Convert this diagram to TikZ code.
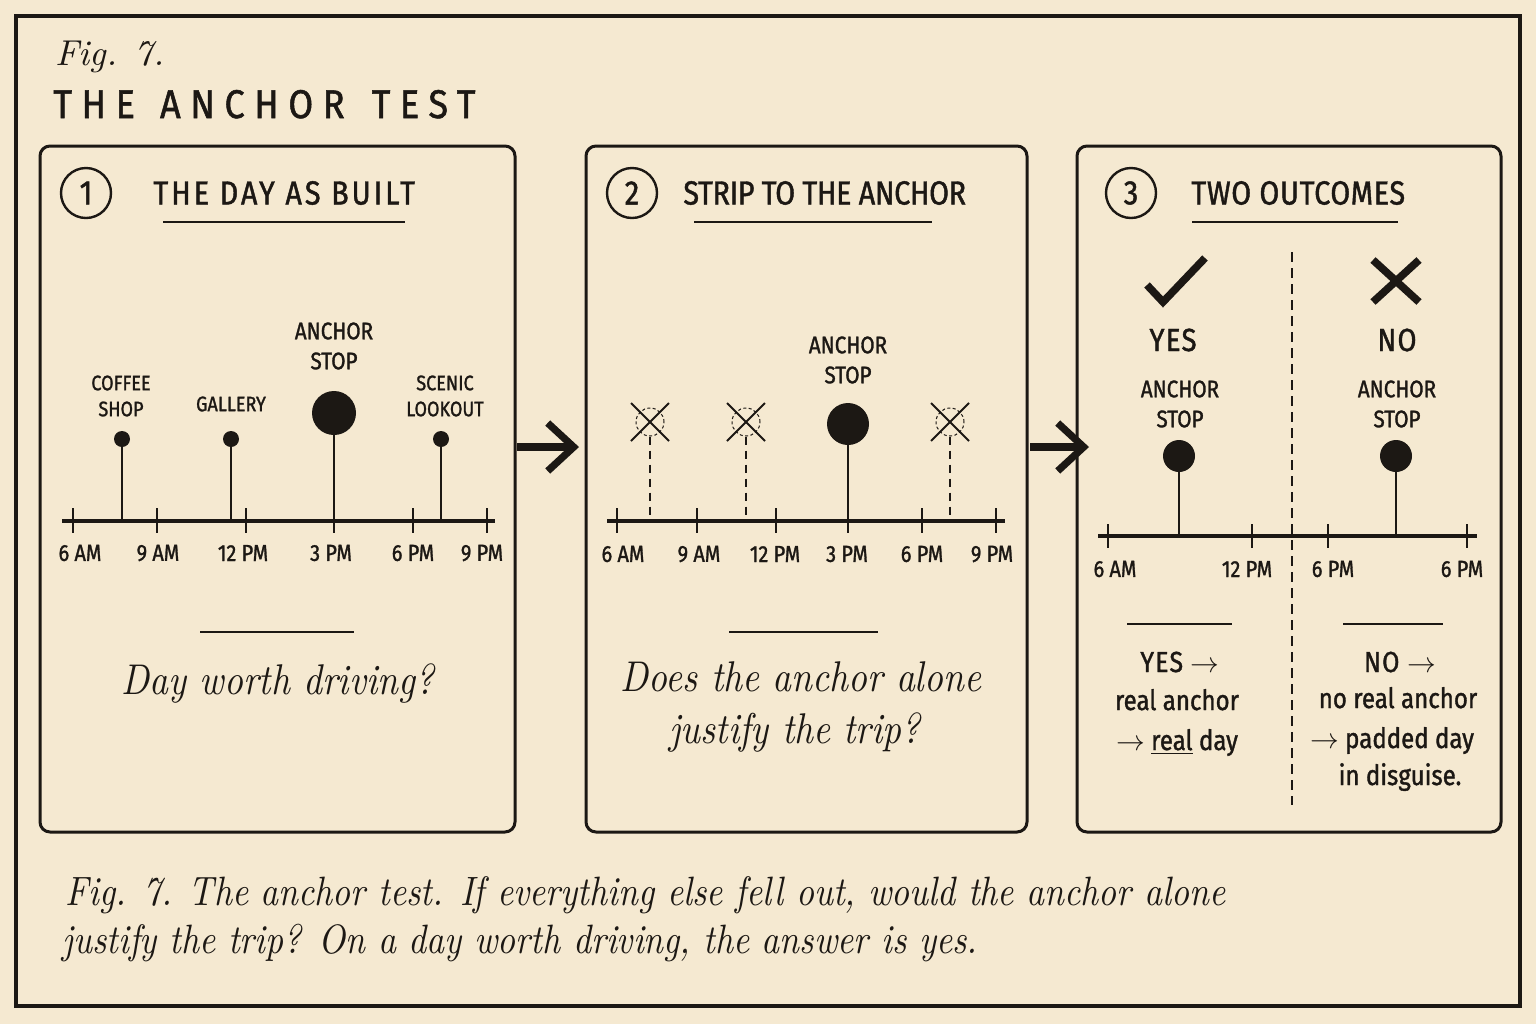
\documentclass[tikz,border=0pt]{standalone}
\usepackage{fontspec}
\usetikzlibrary{arrows.meta}
\newfontfamily\lab[FakeStretch=0.86,FakeBold=1.3]{Fira Sans}
\newfontfamily\labsp[FakeStretch=0.86,FakeBold=1.3,LetterSpace=4]{Fira Sans}
\newfontfamily\titlef[FakeStretch=0.9,FakeBold=1.3,LetterSpace=24]{Fira Sans}
\newfontfamily\serit[FakeStretch=0.86]{lmroman10-italic.otf}
\newfontfamily\figit{lmroman10-italic.otf}
\definecolor{paper}{HTML}{F5E9D1}
\definecolor{ink}{HTML}{1C1814}
\tikzset{
  every node/.style={text=ink, inner sep=0pt},
  frame/.style={draw=ink, line width=2pt},
  panel/.style={draw=ink, line width=1.5pt, rounded corners=5pt},
  hdr/.style={font=\labsp\fontsize{16.7}{18}\selectfont, anchor=west},
  num/.style={circle, draw=ink, line width=1.2pt, minimum size=25pt, font=\lab\fontsize{17}{18}\selectfont},
  hrule/.style={draw=ink, line width=0.9pt},
  axis/.style={draw=ink, line width=1.8pt},
  tick/.style={draw=ink, line width=1.2pt},
  tlab/.style={font=\lab\fontsize{11.6}{13}\selectfont},
  slab/.style={font=\lab\fontsize{10.5}{12}\selectfont, align=center},
  alab/.style={font=\lab\fontsize{12}{13.5}\selectfont, align=center},
  stem/.style={draw=ink, line width=1.2pt},
  dstem/.style={draw=ink, line width=0.8pt, dash pattern=on 4pt off 3pt},
  dot/.style={circle, fill=ink, minimum size=#1},
  ghost/.style={circle, draw=ink, line width=0.5pt, dash pattern=on 1.5pt off 1.2pt, minimum size=14pt},
  xline/.style={draw=ink, line width=1pt},
  bigmark/.style={draw=ink, line width=3.8pt},
  yn/.style={font=\labsp\fontsize{16}{18}\selectfont},
  ital/.style={font=\serit\fontsize{21.5}{26}\selectfont},
  outtxt/.style={font=\lab\fontsize{14}{16}\selectfont, anchor=base},
  outhd/.style={font=\labsp\fontsize{14.5}{16}\selectfont, anchor=base},
  bigarrow/.style={draw=ink, line width=3.6pt, -{Straight Barb[length=13pt,width=24pt]}},
  divider/.style={draw=ink, line width=0.6pt, dash pattern=on 5pt off 3pt},
}
\begin{document}
\begin{tikzpicture}[x=0.5pt,y=-0.5pt]
\fill[paper] (0,0) rectangle (1536,1024);
\useasboundingbox (0,0) rectangle (1536,1024);
\draw[frame] (16,16) rectangle (1520,1006);

% title
\node[anchor=base west, font=\figit\fontsize{18}{20}\selectfont] (fig) at (55,65) {Fig. 7.};
\node[anchor=base west, font=\titlef\fontsize{20}{22}\selectfont] (title) at (53,118) {THE~\hspace{3pt}ANCHOR~\hspace{4pt}TEST};

% panels
\draw[panel] (40,146) rectangle (515,832);
\draw[panel] (586,146) rectangle (1027,832);
\draw[panel] (1077,146) rectangle (1501,832);

% ---------- panel 1 ----------
\node[num] (n1) at (86,193) {1};
\node[hdr] (h1) at (153,193) {\addfontfeature{LetterSpace=9}THE DAY AS BUILT};
\draw[hrule] (163,222) -- (405,222);
\draw[axis] (62,521) -- (495,521);
\foreach \x in {73,157,246,334,413,487} \draw[tick] (\x,508) -- (\x,533);
\coordinate (ax1) at (62,521);
\node[tlab] (l11) at (80,553) {6 AM};
\node[tlab] (l12) at (158,553) {9 AM};
\node[tlab] (l13) at (243,553) {12 PM};
\node[tlab] (l14) at (331,553) {3 PM};
\node[tlab] (l15) at (413,553) {6 PM};
\node[tlab] (l16) at (482,553) {9 PM};
\node[dot=8pt] (d11) at (122,439) {};
\node[dot=8pt] (d12) at (231,439) {};
\node[dot=22pt] (d13) at (334,413) {};
\node[dot=8pt] (d14) at (441,439) {};
\draw[stem] (d11.south) -- (d11 |- ax1);
\draw[stem] (d12.south) -- (d12 |- ax1);
\draw[stem] (d13.south) -- (d13 |- ax1);
\draw[stem] (d14.south) -- (d14 |- ax1);
\node[slab] (s11) at (121,396) {COFFEE\\[1pt]SHOP};
\node[slab] (s12) at (231,404) {GALLERY};
\node[alab] (s13) at (334,346) {ANCHOR\\[1.5pt]STOP};
\node[slab] (s14) at (445,396) {SCENIC\\[1pt]LOOKOUT};
\draw[hrule] (200,632) -- (354,632);
\node[ital, anchor=base] (q1) at (278,694) {Day worth driving?};

% arrow 1
\coordinate (a1s) at (517,447);
\coordinate (a1e) at (579,447);
\draw[bigarrow] (a1s) -- (a1e);

% ---------- panel 2 ----------
\node[num] (n2) at (632,193) {2};
\node[hdr] (h2) at (683,193) {\addfontfeature{LetterSpace=-1}STRIP TO THE ANCHOR};
\draw[hrule] (694,222) -- (932,222);
\draw[axis] (607,521) -- (1005,521);
\coordinate (ax2) at (607,521);
\foreach \x in {617,697,776,848,922,996} \draw[tick] (\x,508) -- (\x,533);
\node[tlab] (l21) at (623,554) {6 AM};
\node[tlab] (l22) at (699,554) {9 AM};
\node[tlab] (l23) at (775,554) {12 PM};
\node[tlab] (l24) at (847,554) {3 PM};
\node[tlab] (l25) at (922,554) {6 PM};
\node[tlab] (l26) at (992,554) {9 PM};
\foreach \n/\x in {g1/650,g2/746,g3/950}{
  \node[ghost] (\n) at (\x,422) {};
  \draw[xline] ([shift={(-19,-19)}]\n.center) -- ([shift={(19,19)}]\n.center);
  \draw[xline] ([shift={(19,-19)}]\n.center) -- ([shift={(-19,19)}]\n.center);
  \draw[dstem] (\n.south) -- (\n |- ax2);
}
\node[dot=21pt] (d2) at (848,424) {};
\draw[stem] (d2.south) -- (d2 |- ax2);
\node[alab] (s2) at (848,360) {ANCHOR\\[1.5pt]STOP};
\draw[hrule] (729,632) -- (878,632);
\node[ital, anchor=base] (q2a) at (801,691) {Does the anchor alone};
\node[ital, anchor=base] (q2b) at (795,743) {justify the trip?};

% arrow 2
\coordinate (a2s) at (1030,447);
\coordinate (a2e) at (1089,447);
\draw[bigarrow] (a2s) -- (a2e);

% ---------- panel 3 ----------
\node[num] (n3) at (1131,193) {3};
\node[hdr] (h3) at (1191,193) {\addfontfeature{LetterSpace=2}TWO OUTCOMES};
\draw[hrule] (1192,222) -- (1398,222);
\coordinate (dvt) at (1292,252);
\coordinate (dvb) at (1292,805);
\draw[divider] (dvt) -- (dvb);
\coordinate (ck) at (1176,281);
\draw[bigmark] ([shift={(-29,4)}]ck) -- ([shift={(-13,21)}]ck) -- ([shift={(29,-23)}]ck);
\coordinate (xk) at (1396,281);
\draw[bigmark] ([shift={(-23,-21)}]xk) -- ([shift={(23,21)}]xk);
\draw[bigmark] ([shift={(23,-21)}]xk) -- ([shift={(-23,21)}]xk);
\node[yn] (yes) at (1173,340) {YES};
\node[yn] (no) at (1397,340) {NO};
\node[alab] (s31) at (1180,404) {ANCHOR\\[1.5pt]STOP};
\node[alab] (s32) at (1397,404) {ANCHOR\\[1.5pt]STOP};
\draw[axis] (1098,536) -- (1477,536);
\coordinate (ax3) at (1098,536);
\foreach \x in {1108,1252,1328,1467} \draw[tick] (\x,524) -- (\x,548);
\node[dot=16pt] (d31) at (1179,456) {};
\node[dot=16pt] (d32) at (1396,456) {};
\draw[stem] (d31.south) -- (d31 |- ax3);
\draw[stem] (d32.south) -- (d32 |- ax3);
\node[tlab] (l31) at (1115,569) {6 AM};
\node[tlab] (l32) at (1247,569) {12 PM};
\node[tlab] (l33) at (1333,569) {6 PM};
\node[tlab] (l34) at (1462,569) {6 PM};
\draw[hrule] (1127,624) -- (1232,624);
\draw[hrule] (1343,624) -- (1443,624);
\node[outhd] (y1) at (1180,672) {YES $\rightarrow$};
\node[outtxt] (y2) at (1177,710) {real anchor};
\node[outtxt] (y3) at (1177,750) {$\rightarrow$ \underline{real} day};
\node[outhd] (o1) at (1400,672) {NO $\rightarrow$};
\node[outtxt] (o2) at (1398,708) {no real anchor};
\node[outtxt] (o3) at (1392,748) {$\rightarrow$ padded day};
\node[outtxt] (o4) at (1400,785) {in disguise.};

% caption
\node[anchor=base west, font=\serit\fontsize{20.5}{24}\selectfont] (c1) at (65,905) {Fig. 7. The anchor test. If everything else fell out, would the anchor alone};
\node[anchor=base west, font=\serit\fontsize{20.5}{24}\selectfont] (c2) at (62,953) {justify the trip? On a day worth driving, the answer is yes.};
\end{tikzpicture}
\end{document}
